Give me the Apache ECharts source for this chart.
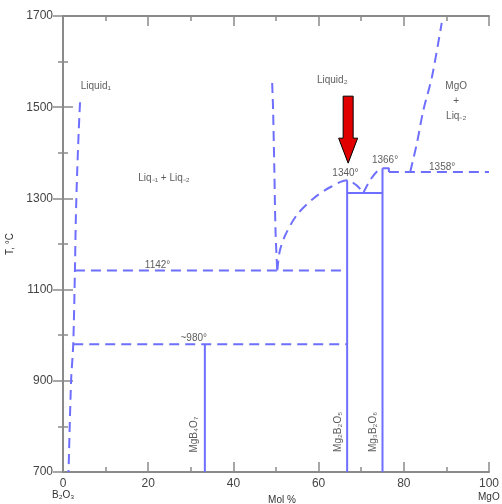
<!DOCTYPE html>
<html>
<head>
<meta charset="utf-8">
<script src="https://cdn.jsdelivr.net/npm/echarts@6/dist/echarts.min.js"></script>
<style>
  html, body { margin: 0; padding: 0; background: #fff; }
  #main { width: 502px; height: 504px; }
</style>
</head>
<body>
<div id="main"></div>
<script>
// phase boundaries, [mol % MgO, T °C]
var liquid1Curve = [[4.0,1511],[3.7,1450],[3.3,1350],[3.0,1250],[2.8,1142],[2.4,980],[1.9,900],[1.3,700]];
var liquid2Curve = [[49.1,1553],[49.3,1500],[49.6,1369],[49.9,1224],[50.3,1142]];
var mg2Liquidus = [[50.3,1142],[50.9,1185],[52.2,1220],[55.0,1265],[58.8,1300],[62.8,1325],[66.7,1340],[69.0,1328],[70.5,1312]];
var mg3Liquidus = [[70.5,1312],[72.1,1340],[73.7,1359],[75.0,1366]];
var mgoLiquidus = [[81.5,1358],[83.1,1422],[84.6,1494],[86.6,1566],[88.9,1685]];
var line1142 = [[2.8,1142],[66.7,1142]];
var line980 = [[2.4,980],[66.7,980]];
var line1358 = [[76.5,1358],[100,1358]];
var step1366 = [[75,1366],[76.5,1366],[76.5,1358]];

// compounds (solid)
var mgB4O7 = [[33.3,700],[33.3,980]];
var mg2B2O5 = [[66.7,700],[66.7,1340]];
var mg3B2O6 = [[75,700],[75,1366]];
var line1312 = [[66.7,1312],[75,1312]];

// text labels [x, T, text, rotate]
var labels = [
  [7.7,1546,'Liquid₁',0],
  [23.7,1345,'Liq₋₁ + Liq₋₂',0],
  [63.2,1560,'Liquid₂',0],
  [92.3,1512,'MgO\n+\nLiq₋₂',0],
  [22.2,1154,'1142°',0],
  [30.7,994,'~980°',0],
  [66.3,1356,'1340°',0],
  [75.6,1383,'1366°',0],
  [89.0,1369,'1358°',0],
  [30.8,782,'MgB₄O₇',90],
  [64.6,788,'Mg₂B₂O₅',90],
  [72.8,788,'Mg₃B₂O₆',90]
];
var arrowAt = [[66.7,1340]];

var xTicks = [0,20,40,60,80,100];
var yTicks = [700,900,1100,1300,1500,1700];

var blue = '#6f6fff';
var axisGray = '#8a8a8a';
var font = 'Liberation Sans, Arial, sans-serif';

function dashed(name, data, smooth) {
  return {
    name: name, type: 'line', data: data, smooth: smooth ? 0.3 : false,
    showSymbol: false, silent: true, clip: false,
    lineStyle: { color: blue, width: 2, type: [10, 6] }
  };
}
function solid(name, data) {
  return {
    name: name, type: 'line', data: data, showSymbol: false, silent: true,
    lineStyle: { color: blue, width: 2 }
  };
}

var chart = echarts.init(document.getElementById('main'));

var axisCommon = {
  axisLine: { show: true, lineStyle: { color: axisGray, width: 2 } },
  axisTick: { show: true, inside: true, length: 10, lineStyle: { color: axisGray, width: 1.5 } },
  minorTick: { show: true, splitNumber: 2, length: 5, lineStyle: { color: axisGray, width: 1.5 } },
  splitLine: { show: false }
};

var option = {
  backgroundColor: '#fff',
  animation: false,
  textStyle: { fontFamily: font },
  grid: { left: 63, top: 16, right: 13, bottom: 32, containLabel: false, outerBoundsMode: 'none' },
  xAxis: [
    Object.assign({
      type: 'value', min: 0, max: 100, interval: 20, position: 'bottom',
      axisLabel: { color: '#444', fontSize: 12, margin: 6, fontFamily: font,
        formatter: function (v) { return xTicks.indexOf(v) >= 0 ? String(v) : ''; } },
      name: 'Mol %', nameLocation: 'middle', nameGap: 20,
      nameTextStyle: { color: '#333', fontSize: 10, fontFamily: font, padding: [0, 0, 0, 12] }
    }, axisCommon),
    Object.assign({
      type: 'value', min: 0, max: 100, interval: 20, position: 'top',
      axisLabel: { show: false }
    }, axisCommon)
  ],
  yAxis: [
    Object.assign({
      type: 'value', min: 700, max: 1700, interval: 200, position: 'left',
      axisLabel: { color: '#444', fontSize: 12, margin: 10, fontFamily: font,
        formatter: function (v) { return yTicks.indexOf(v) >= 0 ? String(v) : ''; } },
      name: 'T, °C', nameLocation: 'middle', nameGap: 45, nameRotate: 90,
      nameTextStyle: { color: '#333', fontSize: 10, fontFamily: font, padding: [0, 0, 0, 0] }
    }, axisCommon),
    Object.assign({
      type: 'value', min: 700, max: 1700, interval: 200, position: 'right',
      axisLabel: { show: false }
    }, axisCommon)
  ],
  graphic: [
    { type: 'text', left: 52, top: 490, style: { text: 'B₂O₃', fill: '#333', font: '10px ' + font } },
    { type: 'text', left: 478, top: 492, style: { text: 'MgO', fill: '#333', font: '10px ' + font } }
  ],
  series: [
    dashed('Liquid1', liquid1Curve, true),
    dashed('Liquid2', liquid2Curve, true),
    dashed('Mg2B2O5 liquidus', mg2Liquidus, true),
    dashed('Mg3B2O6 liquidus', mg3Liquidus, true),
    dashed('MgO liquidus', mgoLiquidus, true),
    dashed('1142', line1142, false),
    dashed('980', line980, false),
    dashed('1358', line1358, false),
    solid('1366 step', step1366),
    solid('MgB4O7', mgB4O7),
    solid('Mg2B2O5', mg2B2O5),
    solid('Mg3B2O6', mg3B2O6),
    solid('1312', line1312),
    {
      name: 'labels', type: 'scatter', symbolSize: 0, silent: true,
      data: labels.map(function (l) {
        return {
          value: [l[0], l[1]],
          label: {
            show: true, position: 'inside', rotate: l[3], formatter: l[2],
            color: '#333', fontSize: 10, fontFamily: font, lineHeight: 15, align: 'center'
          }
        };
      })
    },
    {
      name: 'arrow', type: 'custom', silent: true, data: arrowAt,
      renderItem: function (params, api) {
        var p = api.coord([api.value(0), api.value(1)]);
        var x = p[0] + 1, y = p[1];
        var tip = y - 17, headTop = tip - 25, top = tip - 67;
        return {
          type: 'polygon',
          shape: { points: [
            [x - 5, top], [x + 5, top], [x + 5, headTop], [x + 9.5, headTop],
            [x, tip], [x - 9.5, headTop], [x - 5, headTop]
          ] },
          style: { fill: '#e00000', stroke: '#000', lineWidth: 1 }
        };
      }
    }
  ]
};

chart.setOption(option);
</script>
</body>
</html>
